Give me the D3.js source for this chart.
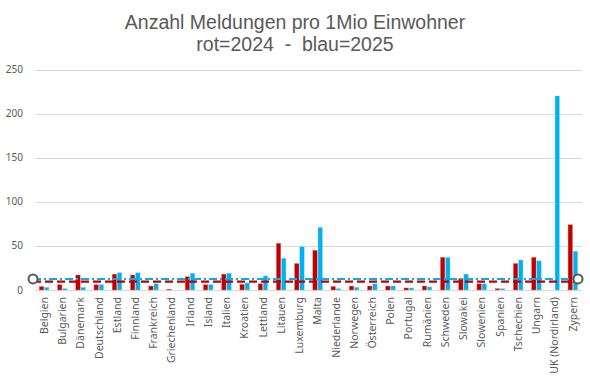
<!DOCTYPE html>
<html><head><meta charset="utf-8">
<script src="https://cdn.jsdelivr.net/npm/d3@7"></script>
<style>body{margin:0;background:#fff}svg{display:block}</style>
</head><body><svg id="c" width="590" height="379"></svg>
<script>
const categories = ["Belgien","Bulgarien","Dänemark","Deutschland","Estland","Finnland","Frankreich","Griechenland","Irland","Island","Italien","Kroatien","Lettland","Litauen","Luxemburg","Malta","Niederlande","Norwegen","Österreich","Polen","Portugal","Rumänien","Schweden","Slowakei","Slowenien","Spanien","Tschechien","Ungarn","UK (Nordirland)","Zypern"];
const values2024 = [4,6,17,6,18,17,4.5,1,15,6,18,6.5,7,53,30,45,4,4.5,4.5,4.5,2.3,4.5,37,13,7,1.5,30,37,0,74];
const values2025 = [3,1.5,3,6,19.5,19.5,7,0,19,6,19,8,16,36,49,71,1.5,3,7,4.5,2.3,3.5,37,18,7,1.5,34,33,220,44];
const ref2024 = 9.5;
const ref2025 = 12.5;
const yTicks = [0,50,100,150,200,250];
const titleLines = ["Anzahl Meldungen pro 1Mio Einwohner","rot=2024  -  blau=2025"];

const svg = d3.select("#c");
const font = "'Noto Sans', sans-serif";
const grey = "#595959";
const x = d3.scaleBand().domain(categories).range([35, 582]);
const y = d3.scaleLinear().domain([0,250]).range([290, 69.5]);
const sub = d3.scaleBand().domain(["2024","2025"]).range([-4.8, 4.8]).paddingInner(0.15);

// title
svg.append("g").selectAll("text").data(titleLines).join("text")
  .attr("x", 295).attr("y", (d,i)=>28.5+i*22.5)
  .attr("text-anchor","middle").attr("font-family","'Liberation Sans', Arial, sans-serif").attr("font-size",19.5)
  .style("white-space","pre")
  .attr("fill",grey).text(d=>d);

// gridlines
svg.append("g").selectAll("line").data(yTicks).join("line")
  .attr("x1",35).attr("x2",582).attr("y1",d=>Math.round(y(d))+0.5).attr("y2",d=>Math.round(y(d))+0.5)
  .attr("stroke","#d9d9d9").attr("stroke-width",1);

// y labels
svg.append("g").selectAll("text").data(yTicks).join("text")
  .attr("x",23).attr("y",d=>y(d)).attr("dy","0.35em").attr("text-anchor","end")
  .attr("font-family",font).attr("font-size",10).attr("fill",grey).text(d=>d);

// bars
const series = [{k:"2024",vals:values2024,col:"#C00000",edge:"#e07070"},{k:"2025",vals:values2025,col:"#00B0F0",edge:"#80d8f8"}];
series.forEach(s=>{
  svg.append("g").selectAll("rect").data(categories.map((c,i)=>({c,v:s.vals[i]}))).join("rect")
    .attr("x",d=>x(d.c)+x.bandwidth()/2+sub(s.k))
    .attr("width",sub.bandwidth())
    .attr("y",d=>y(d.v)).attr("height",d=>y(0)-y(d.v))
    .attr("fill",s.col).attr("stroke",s.edge).attr("stroke-width",0.4);
});

// reference lines
const xl = 33, xr = 578;
svg.append("line").attr("x1",xl).attr("x2",xr).attr("y1",y(ref2024)).attr("y2",y(ref2024))
  .attr("stroke","#C00000").attr("stroke-width",2.2).attr("stroke-dasharray","8,4");
svg.append("line").attr("x1",xl).attr("x2",xr).attr("y1",y(ref2025)).attr("y2",y(ref2025))
  .attr("stroke","#00B0F0").attr("stroke-width",2.2).attr("stroke-dasharray","8,3,2,3");
svg.append("g").selectAll("circle").data([xl,xr]).join("circle")
  .attr("cx",d=>d).attr("cy",y(ref2025)).attr("r",4.5)
  .attr("fill","#fff").attr("stroke",grey).attr("stroke-width",2);

// x labels
svg.append("g").selectAll("text").data(categories).join("text")
  .attr("transform",d=>`translate(${x(d)+x.bandwidth()/2},297) rotate(-90)`)
  .attr("dy","0.35em").attr("text-anchor","end")
  .attr("font-family",font).attr("font-size",10.5).attr("fill",grey).text(d=>d);
</script></body></html>
